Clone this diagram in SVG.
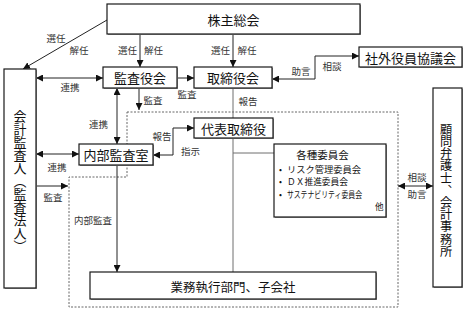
<svg xmlns="http://www.w3.org/2000/svg" width="467" height="320" viewBox="0 0 467 320">
<defs>
<marker id="ah" viewBox="0 0 8 8" refX="8" refY="4" markerWidth="7" markerHeight="7" markerUnits="userSpaceOnUse" orient="auto-start-reverse">
<path d="M0,0 L8,4 L0,8 z" fill="#111"/>
</marker>
<style>
.box{fill:#fff;stroke:#1a1a1a;stroke-width:1.2}
.sh{fill:#9a9a9a}
.t{font-family:"Noto Sans CJK JP","Noto Sans",sans-serif;fill:#111}
.bt{font-size:13px;text-anchor:middle;dominant-baseline:central}
.lb{font-size:9.5px;text-anchor:middle;dominant-baseline:central;fill:#333}
.it{font-size:8.6px;dominant-baseline:central}
.ar{fill:none;stroke:#222;stroke-width:1}
.pl{fill:none;stroke:#6e6e6e;stroke-width:1}
.dash{fill:none;stroke:#666;stroke-width:1;stroke-dasharray:2 1.5}
</style>
</defs>
<rect width="467" height="320" fill="#fff"/>

<g id="region">
<path class="dash" d="M127,112 H398 V307 H69 V177 H127 Z"/>
</g>

<g id="connectors">
<path class="ar" d="M107,20 L23,69" marker-end="url(#ah)"/>
<path class="ar" d="M140,34 V67" marker-end="url(#ah)"/>
<path class="ar" d="M233,34 V67" marker-end="url(#ah)"/>
<path class="ar" d="M36,78 H103" marker-start="url(#ah)" marker-end="url(#ah)"/>
<path class="ar" d="M177,78 H194" marker-end="url(#ah)"/>
<path class="ar" d="M139,88 V110" marker-end="url(#ah)"/>
<path class="pl" d="M233,88 V118"/>
<path class="ar" d="M272,79 H315 V56 H359" marker-start="url(#ah)" marker-end="url(#ah)"/>
<path class="ar" d="M117,88 V144" marker-start="url(#ah)" marker-end="url(#ah)"/>
<path class="ar" d="M36,154 H79" marker-start="url(#ah)" marker-end="url(#ah)"/>
<path class="ar" d="M36,186 H68" marker-end="url(#ah)"/>
<path class="ar" d="M153,155 H173 V128 H194" marker-start="url(#ah)" marker-end="url(#ah)"/>
<path class="pl" d="M233,138 V272 M233,153 H274"/>
<path class="ar" d="M117,165 V272" marker-end="url(#ah)"/>
<path class="ar" d="M398,186 H433" marker-start="url(#ah)" marker-end="url(#ah)"/>
</g>

<g id="labels">
<text class="t lb" x="56" y="38">選任</text>
<text class="t lb" x="79" y="50">解任</text>
<text class="t lb" x="127.5" y="50">選任</text>
<text class="t lb" x="153.5" y="50">解任</text>
<text class="t lb" x="220.5" y="50">選任</text>
<text class="t lb" x="247" y="50">解任</text>
<text class="t lb" x="70" y="87">連携</text>
<text class="t lb" x="187" y="94">監査</text>
<text class="t lb" x="153" y="100">監査</text>
<text class="t lb" x="248" y="101">報告</text>
<text class="t lb" x="301" y="71">助言</text>
<text class="t lb" x="332" y="66">相談</text>
<text class="t lb" x="98.5" y="124">連携</text>
<text class="t lb" x="57" y="167">連携</text>
<text class="t lb" x="53" y="197">監査</text>
<text class="t lb" x="162" y="136">報告</text>
<text class="t lb" x="190.5" y="151">指示</text>
<text class="t lb" x="93" y="220">内部監査</text>
<text class="t lb" x="417" y="177">相談</text>
<text class="t lb" x="417" y="194">助言</text>
</g>

<g id="n-shareholders">
<rect class="sh" x="108" y="5" width="253" height="30"/>
<rect class="box" x="107" y="4" width="253" height="30"/>
<text class="t bt" x="233.5" y="19">株主総会</text>
</g>
<g id="n-kansayakukai">
<rect class="sh" x="104" y="68" width="74" height="21"/>
<rect class="box" x="103" y="67" width="74" height="21"/>
<text class="t bt" x="140" y="77.5">監査役会</text>
</g>
<g id="n-torishimariyakukai">
<rect class="sh" x="195" y="68" width="78" height="21"/>
<rect class="box" x="194" y="67" width="78" height="21"/>
<text class="t bt" x="233" y="77.5">取締役会</text>
</g>
<g id="n-shagai">
<rect class="sh" x="360" y="48" width="103" height="20"/>
<rect class="box" x="359" y="47" width="103" height="20"/>
<text class="t bt" x="410.5" y="57">社外役員協議会</text>
</g>
<g id="n-kaikei">
<rect class="sh" x="5" y="70" width="32" height="219"/>
<rect class="box" x="4" y="69" width="32" height="219"/>
<text class="t" x="20" y="110" style="font-size:13px;writing-mode:vertical-rl">会計監査人（監査法人）</text>
</g>
<g id="n-komon">
<rect class="sh" x="434" y="89" width="29" height="199"/>
<rect class="box" x="433" y="88" width="29" height="199"/>
<text class="t" x="446" y="123" style="font-size:12.2px;writing-mode:vertical-rl">顧問弁護士、会計事務所</text>
</g>
<g id="n-daihyo">
<rect class="sh" x="195" y="119" width="79" height="20"/>
<rect class="box" x="194" y="118" width="79" height="20"/>
<text class="t bt" x="233.5" y="128">代表取締役</text>
</g>
<g id="n-naibu">
<rect class="sh" x="80" y="145" width="74" height="21"/>
<rect class="box" x="79" y="144" width="74" height="21"/>
<text class="t bt" x="116" y="154.5">内部監査室</text>
</g>
<g id="n-iinkai">
<rect class="sh" x="275" y="145" width="112" height="73"/>
<rect class="box" x="274" y="144" width="112" height="73"/>
<text class="t" x="322.5" y="154.5" style="font-size:10.5px;text-anchor:middle;dominant-baseline:central">各種委員会</text>
<text class="t it" x="279" y="168.5">•</text>
<text class="t it" x="287" y="168.5" textLength="74" lengthAdjust="spacingAndGlyphs">リスク管理委員会</text>
<text class="t it" x="279" y="181">•</text>
<text class="t it" x="287" y="181" textLength="61" lengthAdjust="spacingAndGlyphs">ＤＸ推進委員会</text>
<text class="t it" x="279" y="193.5">•</text>
<text class="t it" x="287" y="193.5" textLength="75" lengthAdjust="spacingAndGlyphs">サステナビリティ委員会</text>
<text class="t it" x="375" y="205.5">他</text>
</g>
<g id="n-gyomu">
<rect class="sh" x="91" y="273" width="286" height="27"/>
<rect class="box" x="90" y="272" width="286" height="27"/>
<text class="t" x="233" y="286" style="font-size:12.5px;text-anchor:middle;dominant-baseline:central">業務執行部門、子会社</text>
</g>
</svg>
